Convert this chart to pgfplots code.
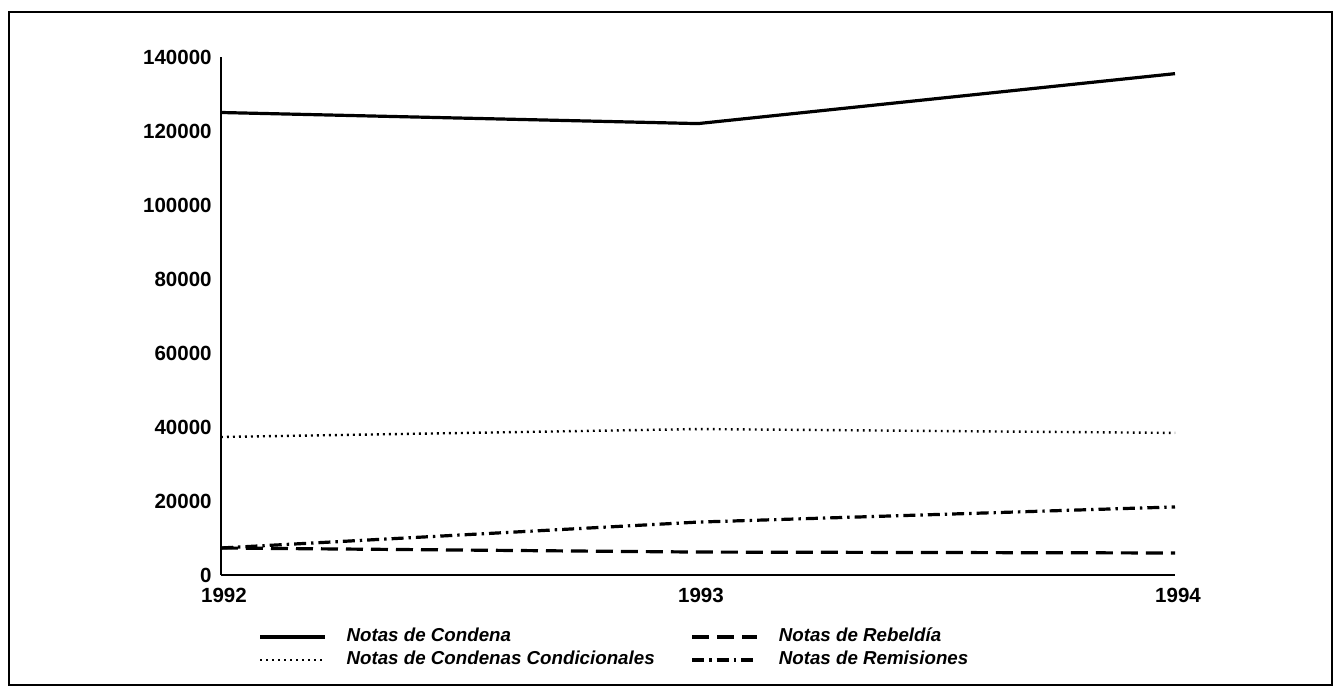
\documentclass[border=0pt]{standalone}
\usepackage{fontspec}
\setmainfont{Liberation Sans}
\usepackage{pgfplots}
\pgfplotsset{compat=1.18}
\begin{document}
\begin{tikzpicture}
\useasboundingbox (-110.5bp,-55.5bp) rectangle (559bp,287.5bp);
\draw[line width=1bp] (-106bp,-55bp) rectangle (555.5bp,281.5bp);
\begin{axis}[
  at={(0bp,0bp)}, anchor=south west,
  scale only axis, width=477bp, height=259bp,
  xmin=1992, xmax=1994, ymin=0, ymax=140000,
  axis lines*=left,
  axis line style={line width=1bp},
  xtick={1992,1993,1994}, xticklabels={1992,1993,1994},
  ytick={0,20000,40000,60000,80000,100000,120000,140000},
  scaled y ticks=false,
  major tick length=0pt,
  /pgf/number format/assume math mode=true,
  yticklabel style={/pgf/number format/fixed, /pgf/number format/1000 sep={}},
  tick label style={font=\fontsize{10.3}{12}\selectfont\bfseries},
  xticklabel style={inner ysep=6.5bp, xshift=1.5bp},
  yticklabel style={inner xsep=4.5bp},
  legend columns=2,
  legend cell align=left,
  legend image code/.code={\draw[#1] (0bp,0bp) -- (32.5bp,0bp);},
  legend style={draw=none, fill=none, inner sep=0pt,
    at={(0.0388,-0.0975)}, anchor=north west,
    font=\fontsize{9.4}{11}\selectfont\bfseries\itshape,
    column sep=9bp,
    /tikz/every even column/.append style={column sep=17bp},
    row sep=0.5bp,
    nodes={inner sep=1bp, text height=7bp, text depth=2bp}},
]
\addplot[black, line width=1.6bp] coordinates {(1992,125000) (1993,122000) (1994,135500)};
\addlegendentry{Notas de Condena}
\addplot[black, line width=1.6bp, dash pattern=on 8.5bp off 4bp] coordinates {(1992,7300) (1993,6200) (1994,5950)};
\addlegendentry{Notas de Rebeldía}
\addplot[black, line width=1.2bp, dash pattern=on 0.9bp off 2.1bp] coordinates {(1992,37300) (1993,39450) (1994,38400)};
\addlegendentry{Notas de Condenas Condicionales}
\addplot[black, line width=1.6bp, dash pattern=on 6bp off 2.5bp on 1.2bp off 2.5bp] coordinates {(1992,7300) (1993,14300) (1994,18400)};
\addlegendentry{Notas de Remisiones}
\end{axis}
\end{tikzpicture}
\end{document}
